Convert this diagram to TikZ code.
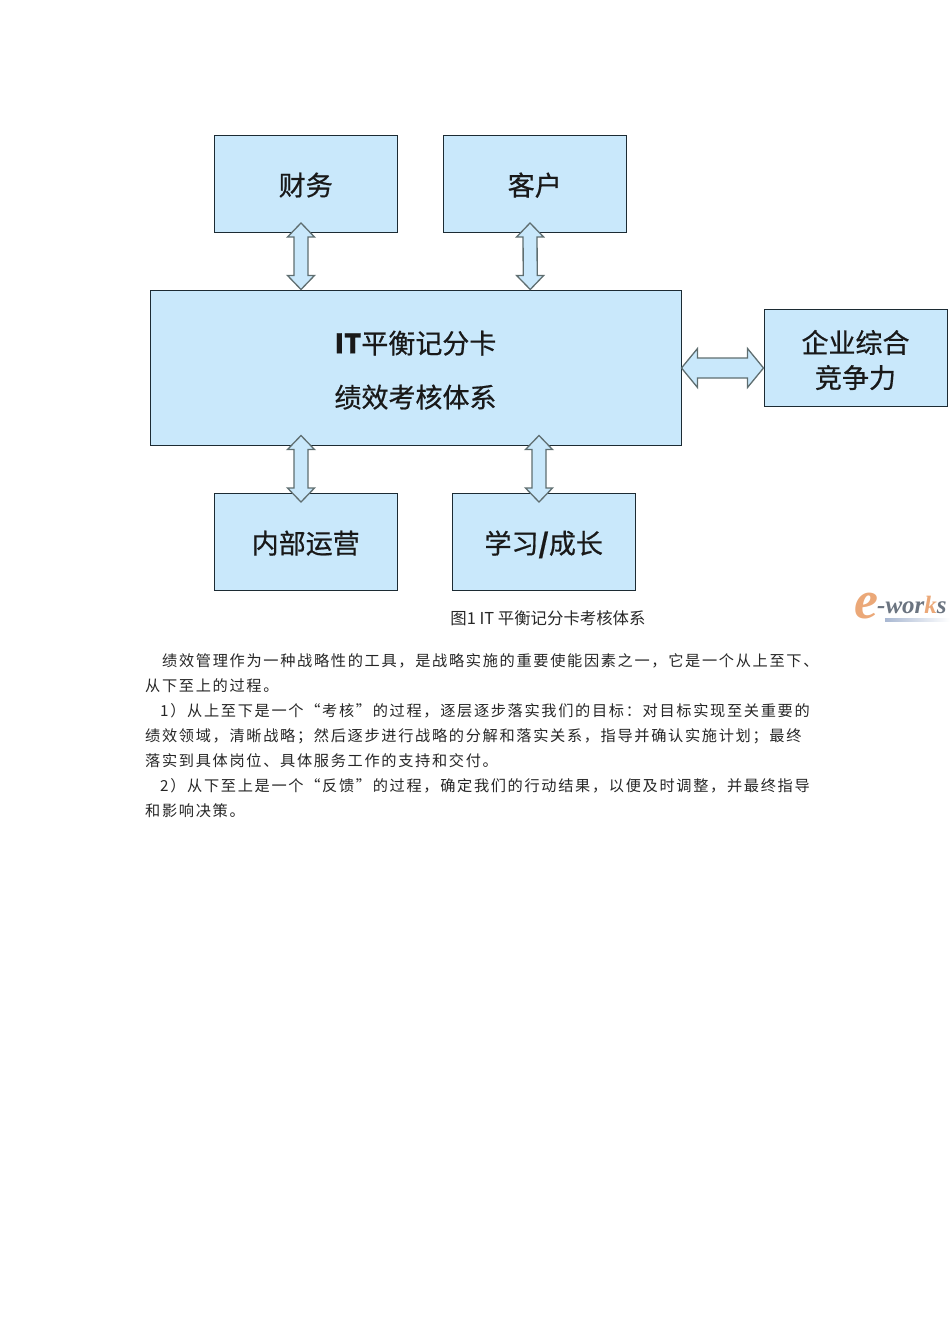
\documentclass[tikz,border=0pt]{standalone}
\usepackage{fontspec}
\usepackage{xcolor}
\usetikzlibrary{calc}
\setmainfont{Noto Sans CJK SC}
\newfontfamily\logofont{Liberation Serif}
\newfontfamily\blockfont[FakeBold=0.6]{Noto Sans CJK SC}
\newfontfamily\bodyfont[LetterSpace=11]{Noto Sans CJK SC}
\definecolor{boxblue}{HTML}{C9E8FB}
\definecolor{boxline}{HTML}{1C2B33}
\definecolor{arrowline}{HTML}{5F6E70}
\definecolor{bodyink}{HTML}{262626}
\definecolor{logoorange}{HTML}{EBA878}
\definecolor{logogray}{HTML}{6B7480}
\definecolor{logoblue}{HTML}{A9B8D2}
\tikzset{
    block/.style={draw=boxline,fill=boxblue,line width=1pt,minimum width=183pt,minimum height=97pt,
        inner sep=0pt,align=center,font=\blockfont\fontsize{27}{35}\selectfont,text=black!90},
    hollow/.style n args={3}{draw=arrowline,fill=boxblue,line width=1.3pt,line join=miter,to path={
        -- ($(\tikztostart)!#3!(\tikztotarget)!#1!90:(\tikztotarget)$)
        -- ($(\tikztostart)!#3!(\tikztotarget)!#2!90:(\tikztotarget)$)
        -- ($(\tikztotarget)!#3!(\tikztostart)!#2!-90:(\tikztostart)$)
        -- ($(\tikztotarget)!#3!(\tikztostart)!#1!-90:(\tikztostart)$)
        -- (\tikztotarget)
        -- ($(\tikztotarget)!#3!(\tikztostart)!#1!90:(\tikztostart)$)
        -- ($(\tikztotarget)!#3!(\tikztostart)!#2!90:(\tikztostart)$)
        -- ($(\tikztostart)!#3!(\tikztotarget)!#2!-90:(\tikztotarget)$)
        -- ($(\tikztostart)!#3!(\tikztotarget)!#1!-90:(\tikztotarget)$)
        -- cycle}},
    bodyline/.style={anchor=base west,inner sep=0pt,text=bodyink,font=\bodyfont\fontsize{15.2}{16}\selectfont}
}
\begin{document}
\begin{tikzpicture}[x=1pt,y=-1pt]
    \useasboundingbox (0,0) rectangle (950,1344);

    % boxes
    \node[block,text depth=-8pt] (finance) at (305.75,184) {财务};
    \node[block,text depth=-8pt] (customer) at (534.75,184) {客户};
    \node[block,minimum width=531pt,minimum height=155pt,font=\blockfont\fontsize{27}{54}\selectfont] (scorecard) at (415.5,367.5) {\null\\[-26pt]\textbf{IT}平衡记分卡\\绩效考核体系};
    \node[block] (compete) at (855.5,358) {\null\\[-8pt]企业综合\\竞争力};
    \node[block,text depth=-8pt] (internal) at (305.75,542) {内部运营};
    \node[block,text depth=0pt] (growth) at (543.75,542) {学习\textbf{/}成长};

    % double arrows
    \draw[hollow={13.5pt}{7pt}{14pt}] ([shift={(-4.75,-10)}]finance.south) to ([shift={(-114.5,0)}]scorecard.north);
    \draw[hollow={13.5pt}{7pt}{14pt}] ([shift={(-4.75,-10)}]customer.south) to ([shift={(114.75,0)}]scorecard.north);
    \draw[hollow={13.5pt}{7pt}{14pt}] ([shift={(-114.5,-10)}]scorecard.south) to ([shift={(-4.75,9)}]internal.north);
    \draw[hollow={13.5pt}{7pt}{14pt}] ([shift={(123.5,-10)}]scorecard.south) to ([shift={(-4.75,9)}]growth.north);
    \draw[hollow={19.5pt}{10pt}{16pt}] ([shift={(0,0.5)}]scorecard.east) to ([shift={(0,10)}]compete.west);

    % caption and logo
    \node[inner sep=0pt,text=bodyink,font=\fontsize{16.4}{18}\selectfont] (caption) at (548,618) {图1 IT 平衡记分卡考核体系};
    \shade[left color=logoblue,right color=white] (885,618) rectangle (950,621);
    \node[inner sep=0pt,text=logoorange,font=\logofont\itshape\bfseries\fontsize{54}{54}\selectfont] (logoe) at (866,606) {e};
    \node[inner sep=0pt,anchor=base west,font=\logofont\itshape\bfseries\fontsize{25}{25}\selectfont,text=logogray] (logoworks) at (877,613) {-wor\textcolor{logoorange}{k}s};

    % text
    \node[bodyline] (line1) at (162,666) {绩效管理作为一种战略性的工具，是战略实施的重要使能因素之一，它是一个从上至下、};
    \node[bodyline] (line2) at (145,691) {从下至上的过程。};
    \node[bodyline] (line3) at (160,716) {1）从上至下是一个“考核”的过程，逐层逐步落实我们的目标：对目标实现至关重要的};
    \node[bodyline] (line4) at (145,741) {绩效领域，清晰战略；然后逐步进行战略的分解和落实关系，指导并确认实施计划；最终};
    \node[bodyline] (line5) at (145,766) {落实到具体岗位、具体服务工作的支持和交付。};
    \node[bodyline] (line6) at (160,791) {2）从下至上是一个“反馈”的过程，确定我们的行动结果，以便及时调整，并最终指导};
    \node[bodyline] (line7) at (145,816) {和影响决策。};
\end{tikzpicture}
\end{document}
